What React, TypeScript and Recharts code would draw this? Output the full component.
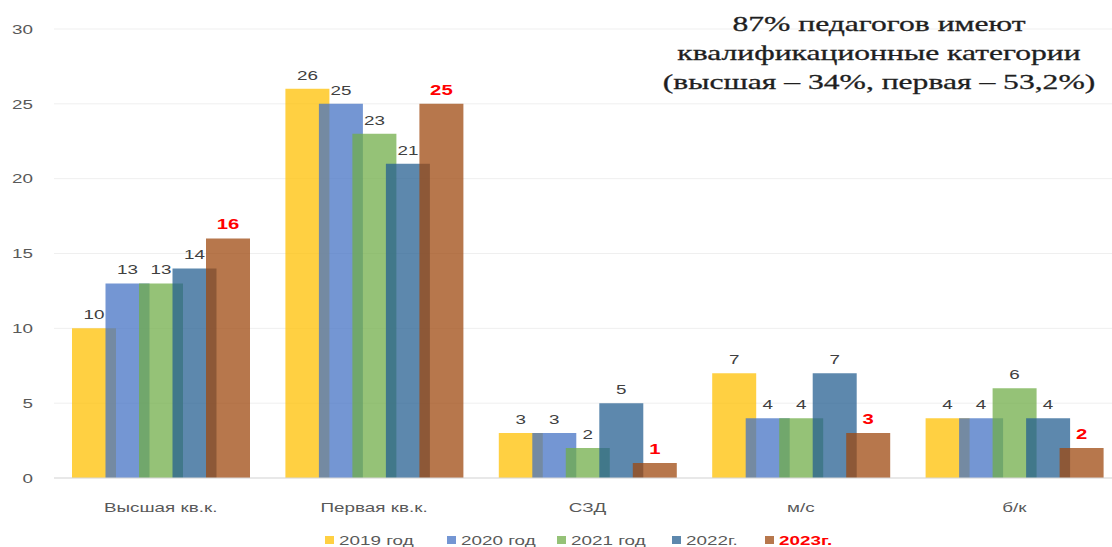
import React from 'react';
import { BarChart, Bar, XAxis, YAxis, CartesianGrid, LabelList } from 'recharts';

const categories = ['Высшая кв.к.', 'Первая кв.к.', 'СЗД', 'м/с', 'б/к'];
const values2019 = [10, 26, 3, 7, 4];
const values2020 = [13, 25, 3, 4, 4];
const values2021 = [13, 23, 2, 4, 6];
const values2022 = [14, 21, 5, 7, 4];
const values2023 = [16, 25, 1, 3, 2];
const seriesNames = ['2019 год', '2020 год', '2021 год', '2022г.', '2023г.'];
const yTicks = [0, 5, 10, 15, 20, 25, 30];
const titleLines = [
  '87% педагогов имеют',
  'квалификационные категории',
  '(высшая – 34%, первая – 53,2%)',
];

const keys = ['y2019', 'y2020', 'y2021', 'y2022', 'y2023'];
const seriesValues = [values2019, values2020, values2021, values2022, values2023];
const colors = ['#ffc000', '#4472c4', '#70ad47', '#255e91', '#9e480e'];
const OPACITY = 0.74;
const SX = 1.45;
const FONT = '"Liberation Sans", Arial, sans-serif';

const data = categories.map((c, i) => {
  const row: any = { name: c };
  keys.forEach((k, j) => {
    row[k] = seriesValues[j][i];
  });
  return row;
});

const XTick = (props: any) => {
  const { x, y, payload } = props;
  return (
    <g transform={`translate(${x},${y + 21}) scale(${SX},1)`}>
      <text x={0} y={0} textAnchor="middle" dominantBaseline="central" fill="#595959" fontSize={13} fontFamily={FONT}>
        {payload.value}
      </text>
    </g>
  );
};

const YTick = (props: any) => {
  const { y, payload } = props;
  return (
    <g transform={`translate(33,${y}) scale(${SX},1)`}>
      <text x={0} y={0} textAnchor="end" dominantBaseline="central" fill="#595959" fontSize={13} fontFamily={FONT}>
        {payload.value}
      </text>
    </g>
  );
};

const makeLabel = (color: string, bold: boolean) => (props: any) => {
  const { x, y, width, value } = props;
  const cx = Number(x) + Number(width) / 2;
  const cy = Number(y) - 14;
  return (
    <g transform={`translate(${cx},${cy}) scale(${SX},1)`}>
      <text x={0} y={0} textAnchor="middle" dominantBaseline="central" fill={color} fontSize={bold ? 14 : 13} fontWeight={bold ? 700 : 400} fontFamily={FONT}>
        {value}
      </text>
    </g>
  );
};

const legendMarkerX = [325, 447, 557, 672, 765];

export default function App() {
  return (
    <div style={{ position: 'absolute', left: 0, top: 0, width: 1112, height: 547, overflow: 'hidden', background: '#fff' }}>
      <BarChart
        width={1140}
        height={547}
        data={data}
        margin={{ top: 29, right: 19, left: 0, bottom: 0 }}
        barSize={44}
        barGap={-10.5}
      >
        <CartesianGrid vertical={false} stroke="#efefef" />
        <XAxis dataKey="name" height={69} axisLine={{ stroke: '#d9d9d9' }} tickLine={false} tick={<XTick />} interval={0} />
        <YAxis width={54} domain={[0, 30]} ticks={yTicks} axisLine={false} tickLine={false} tick={<YTick />} interval={0} />
        {keys.map((k, i) => (
          <Bar key={k} dataKey={k} name={seriesNames[i]} fill={colors[i]} fillOpacity={OPACITY} isAnimationActive={false}>
            <LabelList
              dataKey={k}
              content={makeLabel(i === 4 ? '#ff0000' : '#404040', i === 4)}
            />
          </Bar>
        ))}
      </BarChart>
      <svg width={1112} height={547} style={{ position: 'absolute', left: 0, top: 0, pointerEvents: 'none' }}>
        {seriesNames.map((n, i) => (
          <g key={n}>
            <rect x={legendMarkerX[i]} y={536} width={9} height={8} fill={colors[i]} fillOpacity={OPACITY} />
            <g transform={`translate(${legendMarkerX[i] + 14},540) scale(${SX},1)`}>
              <text x={0} y={0} dominantBaseline="central" fontSize={13} fontFamily={FONT}
                fill={i === 4 ? '#ff0000' : '#595959'} fontWeight={i === 4 ? 700 : 400}>
                {n}
              </text>
            </g>
          </g>
        ))}
      </svg>
      <div
        style={{
          position: 'absolute',
          left: 879,
          top: 10,
          transform: 'translateX(-50%) scaleX(1.45)',
          textAlign: 'center',
          whiteSpace: 'nowrap',
          lineHeight: '29px',
          fontSize: 21.8,
          fontFamily: '"Liberation Serif", "Times New Roman", serif',
          color: '#1f1f1f',
          WebkitTextStroke: '0.3px #1f1f1f',
        }}
      >
        {titleLines.map((l) => (
          <div key={l}>{l}</div>
        ))}
      </div>
    </div>
  );
}
